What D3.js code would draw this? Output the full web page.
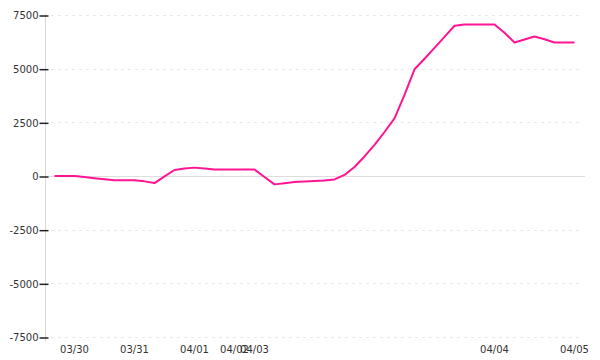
<!DOCTYPE html>
<html>
<head>
<meta charset="utf-8">
<script src="https://cdn.jsdelivr.net/npm/d3@7"></script>
<style>
  body { margin: 0; background: #fff; }
  svg { display: block; }
  .axis text { font-family: "DejaVu Sans", sans-serif; font-size: 10px; fill: #333; }
</style>
</head>
<body>
<svg id="chart" width="600" height="360"></svg>
<script>
// one sample per step, x positions are by sample index
const values = [
    0, 0, 0, -50, -100, -150, -200, -200, -200, -250,
    -330, -20, 280, 350, 390, 350, 300, 300, 300, 300,
    300, -50, -390, -340, -280, -260, -230, -210, -160, 50,
    420, 910, 1450, 2050, 2680, 3780, 4970, 5460, 5970, 6480,
    7000, 7060, 7060, 7060, 7060, 6670, 6220, 6360, 6500, 6370,
    6220, 6220, 6220
];
const xTickIndex = [2, 8, 14, 18, 20, 44, 52];
const xTickLabels = ['03/30', '03/31', '04/01', '04/02', '04/03', '04/04', '04/05'];
const yTicks = [-7500, -5000, -2500, 0, 2500, 5000, 7500];

const svg = d3.select('#chart');
const axisX = 45.5;

const x = d3.scaleLinear().domain([0, values.length - 1]).range([54.5, 574.5]);
const y = d3.scaleLinear().domain([-7500, 7500]).range([337, 15]);

// grid
svg.append('g')
    .selectAll('line')
    .data(yTicks)
    .enter().append('line')
    .attr('x1', d => d === 0 ? 48 : 51)
    .attr('x2', d => d === 0 ? 585 : 582)
    .attr('y1', d => Math.round(y(d)) + 0.5)
    .attr('y2', d => Math.round(y(d)) + 0.5)
    .attr('stroke', d => d === 0 ? '#dddddd' : '#e8e8e8')
    .attr('stroke-dasharray', d => d === 0 ? null : '3,4');

// y axis
const yAxis = svg.append('g')
    .attr('class', 'axis')
    .attr('transform', `translate(${axisX},0.5)`)
    .call(d3.axisLeft(y).tickValues(yTicks).tickSizeOuter(0).tickFormat(d => d < 0 ? '-' + Math.abs(d) : d));
yAxis.select('.domain').attr('stroke', '#d8d8d8').attr('d', `M0,${y(7500) - 2}V${y(-7500) + 4}`);
yAxis.selectAll('.tick line').attr('x1', -6).attr('x2', 3).attr('stroke', '#222').attr('stroke-width', 1.5);
yAxis.selectAll('.tick text').attr('x', -7);

// x labels
svg.append('g')
    .attr('class', 'axis')
    .selectAll('text')
    .data(xTickIndex)
    .enter().append('text')
    .attr('x', d => x(d))
    .attr('y', 353)
    .attr('text-anchor', 'middle')
    .text((d, i) => xTickLabels[i]);

// series
const line = d3.line()
    .x((d, i) => x(i))
    .y(d => y(d));

svg.append('path')
    .datum(values)
    .attr('d', line)
    .attr('fill', 'none')
    .attr('stroke', '#ff1493')
    .attr('stroke-width', 2)
    .attr('stroke-linejoin', 'round');
</script>
</body>
</html>
